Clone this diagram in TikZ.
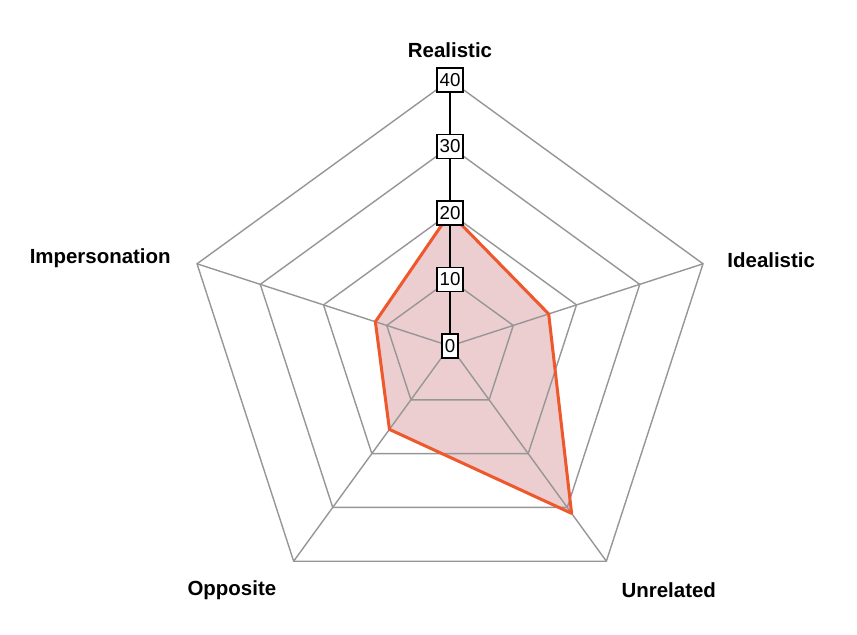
\documentclass[tikz,border=0pt]{standalone}
\usepackage{fontspec}
\setmainfont{Liberation Sans}
\definecolor{gridgray}{RGB}{150,150,150}
\definecolor{datared}{RGB}{238,88,45}
\definecolor{datafill}{RGB}{236,206,208}
\begin{document}
\begin{tikzpicture}[x=0.2cm,y=0.2cm,
    grid line/.style={draw=gridgray,line width=1.2pt,line join=miter},
    tick node/.style={draw,fill=white,line width=1.2pt,inner xsep=2.3pt,inner ysep=0pt,minimum height=20.5pt,font=\fontsize{16}{16}\selectfont},
    axis node/.style={font=\bfseries\fontsize{17.5}{17.5}\selectfont}]
        \useasboundingbox (-67.67,-43.31) rectangle (61.2,52.03);
        \coordinate (o) at (0,0);
        \foreach \a/\n in {90/r,18/i,-54/u,-126/p,162/m}
          \foreach \l in {10,20,30,40}
            \coordinate (\n\l) at (\a:\l);
        % data values
        \coordinate (dr) at (90:20);
        \coordinate (di) at (18:15.6);
        \coordinate (du) at (-54:31.1);
        \coordinate (dp) at (-126:15.5);
        \coordinate (dm) at (162:11.8);
        \fill[datafill] (dr) -- (di) -- (du) -- (dp) -- (dm) -- cycle;
        \foreach \l in {10,20,30,40}
          \draw[grid line] (r\l) -- (i\l) -- (u\l) -- (p\l) -- (m\l) -- cycle;
        \foreach \n in {i,u,p,m}
          \draw[grid line] (o) -- (\n40);
        \draw[datared,line width=2.6pt,line join=round] (dr) -- (di) -- (du) -- (dp) -- (dm) -- cycle;
        \draw[line width=1.2pt] (o) -- (r40);
        \foreach \l in {0,10,20,30,40}
          \node[tick node] (t\l) at (90:\l) {\l};
        \node[axis node] (realistic) at (0,44.5) {Realistic};
        \node[axis node] (idealistic) at (48.3,12.9) {Idealistic};
        \node[axis node] (unrelated) at (32.9,-36.7) {Unrelated};
        \node[axis node] (opposite) at (-32.8,-36.7) {Opposite};
        \node[axis node] (impersonation) at (-52.6,13.2) {Impersonation};
\end{tikzpicture}
\end{document}
